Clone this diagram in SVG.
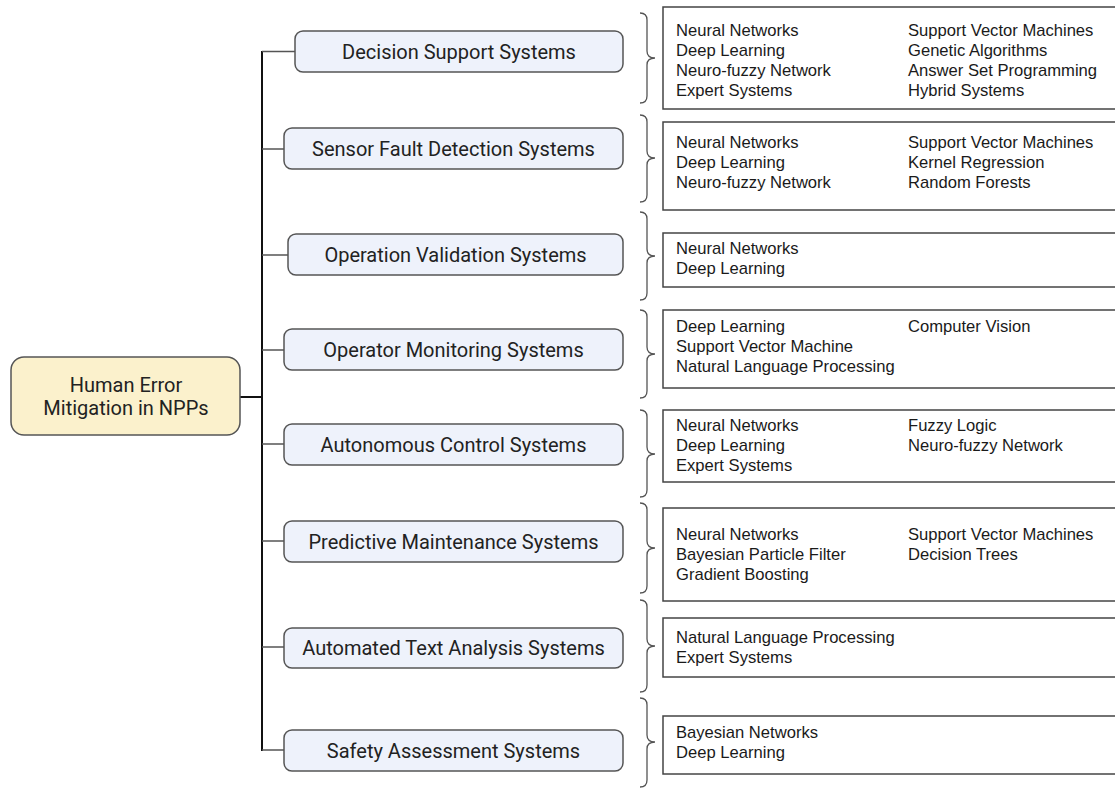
<svg xmlns="http://www.w3.org/2000/svg" width="1115" height="788" viewBox="0 0 1115 788">
<style>
.root{fill:#fbf1cc;stroke:#555;stroke-width:1.5}
.cat{fill:#eef2fb;stroke:#555;stroke-width:1.5}
.box{fill:#fff;stroke:#444;stroke-width:1.5}
.brace{fill:none;stroke:#555;stroke-width:1.3}
.ct{font-family:Roboto,"Liberation Sans",sans-serif;font-size:20px;fill:#222;text-anchor:middle}
.it{font-family:"Liberation Sans",Arial,sans-serif;font-size:16.6px;fill:#1a1a1a}
.br{fill:none;stroke:#555;stroke-width:1.5}
.trunk{fill:none;stroke:#111;stroke-width:2}
</style>
<rect width="1115" height="788" fill="#fff"/>
<g id="connectors">
<line class="trunk" x1="262" y1="51" x2="262" y2="751"/>
<line class="trunk" x1="240" y1="397" x2="262" y2="397"/>
<line class="br" x1="262" y1="51.5" x2="295" y2="51.5"/>
<line class="br" x1="262" y1="149" x2="284" y2="149"/>
<line class="br" x1="262" y1="255" x2="288" y2="255"/>
<line class="br" x1="262" y1="350" x2="284" y2="350"/>
<line class="br" x1="262" y1="444" x2="284" y2="444"/>
<line class="br" x1="262" y1="541" x2="284" y2="541"/>
<line class="br" x1="262" y1="647" x2="284" y2="647"/>
<line class="br" x1="262" y1="750" x2="284" y2="750"/>
</g>
<g id="root">
<rect class="root" x="11" y="357" width="229" height="78" rx="13"/>
<text class="ct" x="126" y="392">Human Error</text>
<text class="ct" x="126" y="415">Mitigation in NPPs</text>
</g>
<g id="cat-decision"><rect class="cat" x="295" y="31" width="328" height="41" rx="8"/><text class="ct" x="459" y="58.5">Decision Support Systems</text></g>
<g id="cat-sensor"><rect class="cat" x="284" y="128" width="339" height="41" rx="8"/><text class="ct" x="453.5" y="155.5">Sensor Fault Detection Systems</text></g>
<g id="cat-operation"><rect class="cat" x="288" y="234" width="335" height="41" rx="8"/><text class="ct" x="455.5" y="261.5">Operation Validation Systems</text></g>
<g id="cat-operator"><rect class="cat" x="284" y="329" width="339" height="41" rx="8"/><text class="ct" x="453.5" y="356.5">Operator Monitoring Systems</text></g>
<g id="cat-autonomous"><rect class="cat" x="284" y="424" width="339" height="41" rx="8"/><text class="ct" x="453.5" y="451.5">Autonomous Control Systems</text></g>
<g id="cat-predictive"><rect class="cat" x="284" y="521" width="339" height="41" rx="8"/><text class="ct" x="453.5" y="548.5">Predictive Maintenance Systems</text></g>
<g id="cat-text"><rect class="cat" x="284" y="628" width="339" height="40" rx="8"/><text class="ct" x="453.5" y="655">Automated Text Analysis Systems</text></g>
<g id="cat-safety"><rect class="cat" x="284" y="730" width="339" height="41" rx="8"/><text class="ct" x="453.5" y="757.5">Safety Assessment Systems</text></g>
<g id="braces">
<path class="brace" d="M640,13 Q647,13 647,20 L647,51 Q647,58 655,58 Q647,58 647,65 L647,96 Q647,103 640,103"/>
<path class="brace" d="M640,115 Q647,115 647,122 L647,151 Q647,158 655,158 Q647,158 647,165 L647,195 Q647,202 640,202"/>
<path class="brace" d="M640,212 Q647,212 647,219 L647,249 Q647,256 655,256 Q647,256 647,263 L647,293 Q647,300 640,300"/>
<path class="brace" d="M640,310 Q647,310 647,317 L647,347 Q647,354 655,354 Q647,354 647,361 L647,391 Q647,398 640,398"/>
<path class="brace" d="M640,410 Q647,410 647,417 L647,447 Q647,454 655,454 Q647,454 647,461 L647,490 Q647,497 640,497"/>
<path class="brace" d="M640,503 Q647,503 647,510 L647,541 Q647,548 655,548 Q647,548 647,555 L647,586 Q647,593 640,593"/>
<path class="brace" d="M640,600 Q647,600 647,607 L647,639 Q647,646 655,646 Q647,646 647,653 L647,685 Q647,692 640,692"/>
<path class="brace" d="M640,698 Q647,698 647,705 L647,735 Q647,742 655,742 Q647,742 647,749 L647,780 Q647,787 640,787"/>
</g>
<g id="list-decision"><rect class="box" x="663" y="7" width="460" height="102"/>
<text class="it" x="676" y="36">Neural Networks</text><text class="it" x="676" y="56">Deep Learning</text><text class="it" x="676" y="76">Neuro-fuzzy Network</text><text class="it" x="676" y="96">Expert Systems</text>
<text class="it" x="908" y="36">Support Vector Machines</text><text class="it" x="908" y="56">Genetic Algorithms</text><text class="it" x="908" y="76">Answer Set Programming</text><text class="it" x="908" y="96">Hybrid Systems</text></g>
<g id="list-sensor"><rect class="box" x="663" y="122" width="460" height="88"/>
<text class="it" x="676" y="148">Neural Networks</text><text class="it" x="676" y="168">Deep Learning</text><text class="it" x="676" y="188">Neuro-fuzzy Network</text>
<text class="it" x="908" y="148">Support Vector Machines</text><text class="it" x="908" y="168">Kernel Regression</text><text class="it" x="908" y="188">Random Forests</text></g>
<g id="list-operation"><rect class="box" x="663" y="233" width="460" height="54"/>
<text class="it" x="676" y="254">Neural Networks</text><text class="it" x="676" y="274">Deep Learning</text></g>
<g id="list-operator"><rect class="box" x="663" y="310" width="460" height="78"/>
<text class="it" x="676" y="332">Deep Learning</text><text class="it" x="676" y="352">Support Vector Machine</text><text class="it" x="676" y="372">Natural Language Processing</text>
<text class="it" x="908" y="332">Computer Vision</text></g>
<g id="list-autonomous"><rect class="box" x="663" y="410" width="460" height="72"/>
<text class="it" x="676" y="431">Neural Networks</text><text class="it" x="676" y="451">Deep Learning</text><text class="it" x="676" y="471">Expert Systems</text>
<text class="it" x="908" y="431">Fuzzy Logic</text><text class="it" x="908" y="451">Neuro-fuzzy Network</text></g>
<g id="list-predictive"><rect class="box" x="663" y="508" width="460" height="93"/>
<text class="it" x="676" y="540">Neural Networks</text><text class="it" x="676" y="560">Bayesian Particle Filter</text><text class="it" x="676" y="580">Gradient Boosting</text>
<text class="it" x="908" y="540">Support Vector Machines</text><text class="it" x="908" y="560">Decision Trees</text></g>
<g id="list-text"><rect class="box" x="663" y="618" width="460" height="59"/>
<text class="it" x="676" y="643">Natural Language Processing</text><text class="it" x="676" y="663">Expert Systems</text></g>
<g id="list-safety"><rect class="box" x="663" y="716" width="460" height="58"/>
<text class="it" x="676" y="738">Bayesian Networks</text><text class="it" x="676" y="758">Deep Learning</text></g>
</svg>
